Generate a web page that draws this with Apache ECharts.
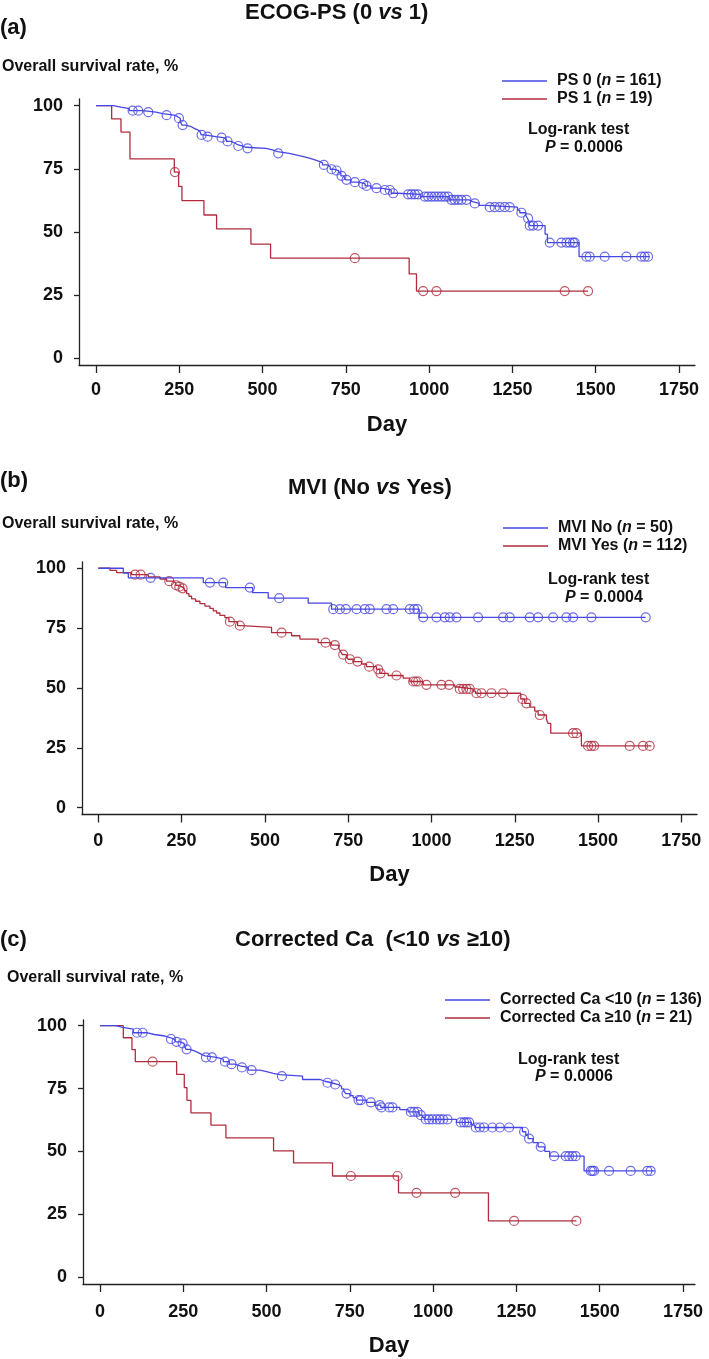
<!DOCTYPE html>
<html><head><meta charset="utf-8">
<script src="https://cdn.jsdelivr.net/npm/echarts@6/dist/echarts.min.js"></script>
<style>html,body{margin:0;padding:0;background:#fff}#c{width:709px;height:1359px}</style>
</head><body><div id="c"></div>
<script>
// ---------- tick labels ----------
const dayTicks = [0, 250, 500, 750, 1000, 1250, 1500, 1750];
const rateTicks = [0, 25, 50, 75, 100];

// ---------- panel (a) ECOG-PS ----------
const aNames = ['PS 0 (n = 161)', 'PS 1 (n = 19)'];
const aBlueSteps = [[0,100],[52,99.4],[75,98.8],[100,98.0],[140,97.4],[180,96.8],[200,96.2],[235,95.6],[245,95.0],[253,93.7],[258,92.3],[270,91.7],[285,91.0],[295,90.4],[305,89.7],[312,89.1],[316,88.4],[325,87.7],[360,87.3],[383,86.6],[392,85.8],[405,85.1],[418,84.5],[425,84.0],[440,83.5],[450,83.1],[510,82.5],[530,81.8],[545,81.1],[580,80.5],[600,79.9],[620,79.2],[640,78.6],[655,78.0],[668,77.3],[680,76.5],[695,75.8],[703,74.8],[715,74.3],[728,73.4],[735,72.2],[745,71.4],[750,70.6],[765,69.7],[790,69.0],[808,68.2],[825,67.3],[855,66.6],[886,65.3],[905,64.9],[975,64.0],[1060,62.7],[1120,62.0],[1130,61.3],[1150,60.5],[1170,59.8],[1265,58.6],[1272,57.6],[1290,56.5],[1295,55.4],[1300,54.0],[1302,52.5],[1348,49.1],[1355,45.8],[1450,40.2],[1662,40.2]];
const aBlueCensor = [110,127,157,212,249,260,317,335,377,395,427,455,547,684,707,722,737,752,777,802,812,842,867,882,892,937,947,957,967,987,997,1007,1017,1027,1037,1047,1057,1067,1077,1087,1097,1112,1137,1182,1197,1212,1227,1242,1277,1297,1302,1312,1327,1362,1397,1412,1422,1432,1437,1472,1482,1527,1592,1637,1647,1657];
const aRedSteps = [[0,100],[47,94.7],[75,89.5],[102,78.9],[235,73.7],[248,68.0],[258,62.4],[324,56.7],[362,51.2],[465,45.2],[524,39.6],[940,33.4],[962,26.6],[1477,26.6]];
const aRedCensor = [237,777,982,1022,1407,1477];

// ---------- panel (b) MVI ----------
const bNames = ['MVI No (n = 50)', 'MVI Yes (n = 112)'];
const bBlueSteps = [[0,100],[75,98.0],[90,96.0],[315,94.0],[382,91.9],[463,89.8],[510,87.5],[630,85.4],[700,82.9],[963,79.5],[1643,79.5]];
const bBlueCensor = [157,335,375,455,543,705,725,743,775,800,815,865,885,935,948,958,975,1015,1040,1055,1075,1140,1215,1235,1295,1320,1365,1405,1425,1480,1643];
const bRedSteps = [[0,100],[35,99.1],[55,98.2],[100,97.3],[150,96.4],[185,95.5],[205,94.6],[225,93.8],[232,92.9],[240,92.3],[250,91.6],[258,90.6],[265,89.4],[272,88.3],[280,87.2],[292,86.2],[305,85.2],[320,84.2],[335,83.2],[345,82.2],[355,81.3],[365,80.3],[380,79.4],[392,77.7],[418,76.0],[430,75.3],[520,73.1],[580,71.8],[605,70.4],[660,68.9],[700,67.9],[722,66.5],[728,65.0],[733,63.9],[745,62.9],[750,62.0],[765,61.0],[790,60.0],[805,58.9],[835,57.8],[845,56.1],[870,55.2],[915,54.1],[935,52.7],[975,51.3],[1070,50.4],[1080,49.6],[1125,48.7],[1132,47.8],[1268,45.4],[1280,43.6],[1295,42.0],[1310,40.3],[1320,38.7],[1345,36.9],[1350,35.2],[1358,31.1],[1450,25.8],[1660,25.8]];
const bRedCensor = [110,127,213,233,243,253,395,425,550,682,710,735,755,778,813,840,847,895,945,953,960,985,1030,1053,1085,1095,1105,1115,1135,1150,1180,1215,1273,1285,1325,1425,1435,1470,1480,1488,1595,1635,1655];

// ---------- panel (c) Corrected Ca ----------
const cNames = ['Corrected Ca <10 (n = 136)', 'Corrected Ca \u226510 (n = 21)'];
const cBlueSteps = [[0,100],[48,99.3],[68,98.6],[100,97.2],[140,96.5],[163,95.9],[195,95.3],[210,94.7],[222,94.1],[228,93.6],[240,93.0],[252,92.3],[255,91.6],[258,90.6],[270,89.9],[285,89.3],[295,88.6],[305,88.0],[315,87.4],[350,86.7],[370,85.7],[388,84.7],[405,84.0],[420,83.4],[445,82.3],[480,81.7],[500,81.0],[520,80.5],[540,79.9],[608,78.6],[660,77.9],[675,77.3],[695,76.6],[715,75.9],[725,74.9],[732,73.9],[738,73.0],[750,72.2],[760,71.4],[770,70.4],[800,69.5],[825,68.4],[843,67.5],[900,66.6],[925,65.7],[958,64.4],[968,63.5],[975,62.7],[1070,61.5],[1115,60.5],[1125,59.5],[1268,57.8],[1278,56.5],[1285,55.1],[1300,53.5],[1315,51.8],[1335,50.0],[1350,48.1],[1453,42.2],[1665,42.2]];
const cBlueCensor = [111,128,213,230,248,260,318,336,375,395,426,455,546,683,706,740,776,783,813,840,845,868,878,933,943,953,963,978,988,998,1010,1020,1030,1043,1083,1093,1100,1108,1128,1140,1153,1178,1200,1228,1273,1288,1323,1363,1398,1408,1418,1428,1473,1478,1483,1528,1593,1643,1653];
const cRedSteps = [[0,100],[70,95.2],[96,90.5],[106,85.7],[230,80.6],[253,75.4],[261,70.3],[273,65.3],[333,60.4],[378,55.4],[521,50.2],[581,45.4],[698,40.2],[896,33.5],[1166,22.3],[1430,22.3]];
const cRedCensor = [158,753,893,950,1066,1243,1430];

// ---------- styling ----------
const BLUE = '#4747e3';
const RED = '#b02c3c';
const FONT = '"Liberation Sans", Arial, Helvetica, sans-serif';
const INK = '#111';

function survAt(steps, t) {
  let s = steps[0][1];
  for (const p of steps) { if (p[0] <= t) s = p[1]; else break; }
  return s;
}

const panels = [
  { names: aNames, blue: aBlueSteps, blueC: aBlueCensor, red: aRedSteps, redC: aRedCensor,
    grid: {left: 79, top: 99, width: 616, height: 266}, x: [-51, 1798], y: [-2.65, 102.6], labelMargin: 16, nameGap: 49,
    legend: {left: 502, top: 72} },
  { names: bNames, blue: bBlueSteps, blueC: bBlueCensor, red: bRedSteps, redC: bRedCensor,
    grid: {left: 82, top: 562, width: 615, height: 252.5}, x: [-49, 1797], y: [-2.84, 102.6], labelMargin: 18, nameGap: 49,
    legend: {left: 503, top: 519} },
  { names: cNames, blue: cBlueSteps, blueC: cBlueCensor, red: cRedSteps, redC: cRedCensor,
    grid: {left: 83, top: 1020, width: 612, height: 264}, x: [-51, 1786], y: [-2.78, 102.27], labelMargin: 19, nameGap: 51,
    legend: {left: 445, top: 991} }
];

const grids = [], xAxes = [], yAxes = [], series = [], legends = [];
const axisLineStyle = {color: '#222', width: 1.3};
panels.forEach((p, i) => {
  grids.push(p.grid);
  xAxes.push({
    type: 'value', gridIndex: i, min: p.x[0], max: p.x[1],
    name: 'Day', nameLocation: 'middle', nameGap: p.nameGap,
    nameTextStyle: {fontFamily: FONT, fontWeight: 'bold', fontSize: 22, color: INK},
    axisLine: {show: true, onZero: false, lineStyle: axisLineStyle},
    axisTick: {show: true, length: 8, lineStyle: axisLineStyle, customValues: dayTicks},
    axisLabel: {show: true, customValues: dayTicks, formatter: v => String(v), margin: p.labelMargin,
      fontFamily: FONT, fontWeight: 'bold', fontSize: 18, color: INK},
    splitLine: {show: false}
  });
  yAxes.push({
    type: 'value', gridIndex: i, min: p.y[0], max: p.y[1],
    axisLine: {show: true, onZero: false, lineStyle: axisLineStyle},
    axisTick: {show: true, length: 5, lineStyle: axisLineStyle, customValues: rateTicks},
    axisLabel: {show: true, customValues: rateTicks, formatter: v => String(v), margin: 16,
      fontFamily: FONT, fontWeight: 'bold', fontSize: 18, color: INK},
    splitLine: {show: false}
  });
  const groups = [[p.names[1], p.red, p.redC, RED], [p.names[0], p.blue, p.blueC, BLUE]];
  groups.forEach(([name, steps, cens, col]) => {
    series.push({
      type: 'line', name: name, xAxisIndex: i, yAxisIndex: i, data: steps, step: 'end',
      symbol: 'none', lineStyle: {color: col, width: 1.3}, itemStyle: {color: col}, animation: false, silent: true
    });
    series.push({
      type: 'scatter', name: name + ' censored', xAxisIndex: i, yAxisIndex: i,
      data: cens.map(t => [t, survAt(steps, t)]),
      symbol: 'circle', symbolSize: 9,
      itemStyle: {color: 'rgba(0,0,0,0)', borderColor: col, borderWidth: 1.2},
      animation: false, silent: true
    });
  });
  legends.push({
    left: p.legend.left, top: p.legend.top, orient: 'vertical', itemGap: 0, padding: 0,
    icon: 'rect', itemWidth: 45, itemHeight: 1.4,
    data: [p.names[0], p.names[1]],
    selectedMode: false,
    formatter: function (name) {
      const m = name.match(/^(.*\()n( = .*)$/);
      return m ? '{b|' + m[1] + '}{i|n}{b|' + m[2] + '}' : '{b|' + name + '}';
    },
    textStyle: {
      padding: [0, 0, 0, 5], lineHeight: 18,
      rich: {
        b: {fontFamily: FONT, fontWeight: 'bold', fontSize: 16, color: INK, lineHeight: 18},
        i: {fontFamily: FONT, fontWeight: 'bold', fontStyle: 'italic', fontSize: 16, color: INK, lineHeight: 18}
      }
    }
  });
});

function txt(x, y, text, size, rich, align) {
  return {
    type: 'text', x: x, y: y, silent: true,
    style: {
      text: text, align: align || 'left', verticalAlign: 'middle',
      fontFamily: FONT, fontWeight: 'bold', fontSize: size, fill: INK,
      rich: rich || undefined
    }
  };
}
function richSet(size) {
  return {
    b: {fontFamily: FONT, fontWeight: 'bold', fontSize: size, fill: INK},
    i: {fontFamily: FONT, fontWeight: 'bold', fontStyle: 'italic', fontSize: size, fill: INK}
  };
}

const graphics = [
  txt(0, 28, '(a)', 22),
  txt(245, 13, '{b|ECOG-PS (0 }{i|vs}{b| 1)}', 22, richSet(22)),
  txt(2, 67, 'Overall survival rate, %', 16),
  txt(528, 130, 'Log-rank test', 16),
  txt(545, 148, '{i|P}{b| = 0.0006}', 16, richSet(16)),

  txt(0, 481, '(b)', 22),
  txt(288, 488, '{b|MVI (No }{i|vs}{b| Yes)}', 22, richSet(22)),
  txt(2, 524, 'Overall survival rate, %', 16),
  txt(548, 580, 'Log-rank test', 16),
  txt(565, 598, '{i|P}{b| = 0.0004}', 16, richSet(16)),

  txt(0, 940, '(c)', 22),
  txt(235, 940, '{b|Corrected Ca  (<10 }{i|vs}{b| \u226510)}', 22, richSet(22)),
  txt(7, 978, 'Overall survival rate, %', 16),
  txt(518, 1060, 'Log-rank test', 16),
  txt(535, 1077, '{i|P}{b| = 0.0006}', 16, richSet(16))
];

const chart = echarts.init(document.getElementById('c'), null, {renderer: 'canvas'});
chart.setOption({
  backgroundColor: '#fff',
  animation: false,
  grid: grids,
  xAxis: xAxes,
  yAxis: yAxes,
  legend: legends,
  series: series,
  graphic: graphics
});
</script>
</body></html>
